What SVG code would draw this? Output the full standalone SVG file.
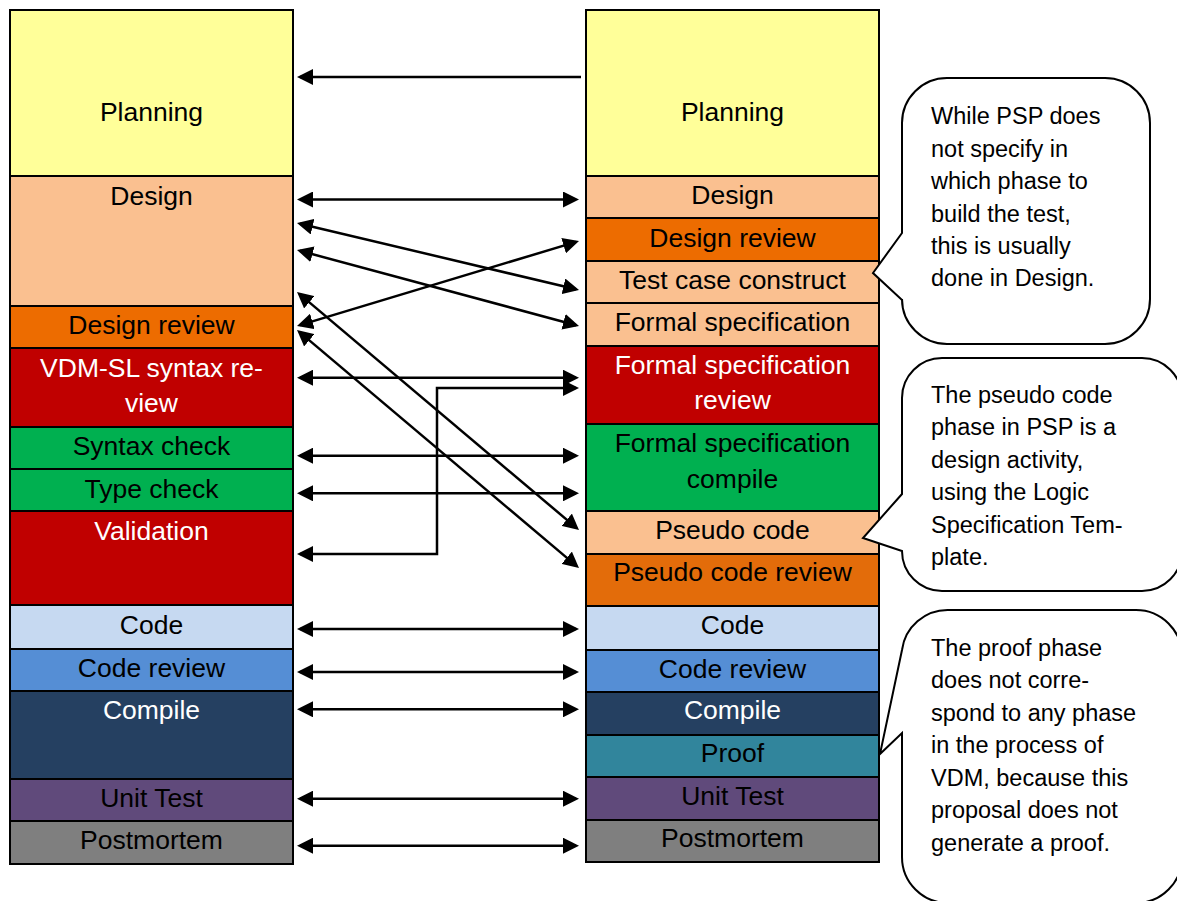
<svg xmlns="http://www.w3.org/2000/svg" width="1177" height="901" viewBox="0 0 1177 901">
<style>
.c{stroke:#000;stroke-width:2}
.t{font-family:"Liberation Sans",Arial,sans-serif;font-size:26.5px;text-anchor:middle;fill:#000}
.w{fill:#fff}
.n{font-family:"Liberation Sans",Arial,sans-serif;font-size:23.5px;fill:#000}
.b{fill:#fff;stroke:#000;stroke-width:2}
.a{fill:none;stroke:#000;stroke-width:2.5;marker-start:url(#ah);marker-end:url(#ah)}
.e{fill:none;stroke:#000;stroke-width:2.5;marker-end:url(#ah)}
</style>
<defs>
<marker id="ah" viewBox="0 0 16 16" refX="13" refY="8" markerWidth="16" markerHeight="16" markerUnits="userSpaceOnUse" orient="auto-start-reverse">
<path d="M0,0 L16,8 L0,16 Z" fill="#000"/>
</marker>
</defs>
<rect width="1177" height="901" fill="#fff"/>

<!-- Left column (PSP) -->
<g id="L-planning"><rect class="c" x="10" y="10" width="283" height="166" fill="#FFFF99"/><text class="t" x="151.5" y="121">Planning</text></g>
<g id="L-design"><rect class="c" x="10" y="176" width="283" height="130" fill="#FAC090"/><text class="t" x="151.5" y="205">Design</text></g>
<g id="L-design-review"><rect class="c" x="10" y="306" width="283" height="42" fill="#ED6C00"/><text class="t" x="151.5" y="334">Design review</text></g>
<g id="L-vdm-syntax-review"><rect class="c" x="10" y="348" width="283" height="79" fill="#C00000"/><text class="t w" x="151.5" y="377">VDM-SL syntax re-</text><text class="t w" x="151.5" y="412">view</text></g>
<g id="L-syntax-check"><rect class="c" x="10" y="427" width="283" height="42" fill="#00B050"/><text class="t" x="151.5" y="455">Syntax check</text></g>
<g id="L-type-check"><rect class="c" x="10" y="469" width="283" height="42" fill="#00B050"/><text class="t" x="151.5" y="498">Type check</text></g>
<g id="L-validation"><rect class="c" x="10" y="511" width="283" height="94" fill="#C00000"/><text class="t w" x="151.5" y="540">Validation</text></g>
<g id="L-code"><rect class="c" x="10" y="605" width="283" height="44" fill="#C6D9F1"/><text class="t" x="151.5" y="634">Code</text></g>
<g id="L-code-review"><rect class="c" x="10" y="649" width="283" height="42" fill="#558ED5"/><text class="t" x="151.5" y="677">Code review</text></g>
<g id="L-compile"><rect class="c" x="10" y="691" width="283" height="88" fill="#254061"/><text class="t w" x="151.5" y="719">Compile</text></g>
<g id="L-unit-test"><rect class="c" x="10" y="779" width="283" height="42" fill="#604A7B"/><text class="t" x="151.5" y="807">Unit Test</text></g>
<g id="L-postmortem"><rect class="c" x="10" y="821" width="283" height="43" fill="#7F7F7F"/><text class="t" x="151.5" y="849">Postmortem</text></g>

<!-- Right column (VDM) -->
<g id="R-planning"><rect class="c" x="586" y="10" width="293" height="166" fill="#FFFF99"/><text class="t" x="732.5" y="121">Planning</text></g>
<g id="R-design"><rect class="c" x="586" y="176" width="293" height="42" fill="#FAC090"/><text class="t" x="732.5" y="204">Design</text></g>
<g id="R-design-review"><rect class="c" x="586" y="218" width="293" height="43" fill="#ED6C00"/><text class="t" x="732.5" y="247">Design review</text></g>
<g id="R-test-case"><rect class="c" x="586" y="261" width="293" height="42" fill="#FAC090"/><text class="t" x="732.5" y="289">Test case construct</text></g>
<g id="R-formal-spec"><rect class="c" x="586" y="303" width="293" height="43" fill="#FAC090"/><text class="t" x="732.5" y="331">Formal specification</text></g>
<g id="R-formal-spec-review"><rect class="c" x="586" y="346" width="293" height="78" fill="#C00000"/><text class="t w" x="732.5" y="374">Formal specification</text><text class="t w" x="732.5" y="409">review</text></g>
<g id="R-formal-spec-compile"><rect class="c" x="586" y="424" width="293" height="87" fill="#00B050"/><text class="t" x="732.5" y="452">Formal specification</text><text class="t" x="732.5" y="488">compile</text></g>
<g id="R-pseudo-code"><rect class="c" x="586" y="511" width="293" height="43" fill="#FAC090"/><text class="t" x="732.5" y="539">Pseudo code</text></g>
<g id="R-pseudo-code-review"><rect class="c" x="586" y="554" width="293" height="52" fill="#E36C0A"/><text class="t" x="732.5" y="581">Pseudo code review</text></g>
<g id="R-code"><rect class="c" x="586" y="606" width="293" height="44" fill="#C6D9F1"/><text class="t" x="732.5" y="634">Code</text></g>
<g id="R-code-review"><rect class="c" x="586" y="650" width="293" height="42" fill="#558ED5"/><text class="t" x="732.5" y="678">Code review</text></g>
<g id="R-compile"><rect class="c" x="586" y="692" width="293" height="43" fill="#254061"/><text class="t w" x="732.5" y="719">Compile</text></g>
<g id="R-proof"><rect class="c" x="586" y="735" width="293" height="42" fill="#31859C"/><text class="t" x="732.5" y="762">Proof</text></g>
<g id="R-unit-test"><rect class="c" x="586" y="777" width="293" height="43" fill="#604A7B"/><text class="t" x="732.5" y="805">Unit Test</text></g>
<g id="R-postmortem"><rect class="c" x="586" y="820" width="293" height="42" fill="#7F7F7F"/><text class="t" x="732.5" y="847">Postmortem</text></g>

<!-- Callouts -->
<g id="callout-test">
<path class="b" d="M947,78 H1105 A45,45 0 0 1 1150,123 V299 A45,45 0 0 1 1105,344 H947 A45,45 0 0 1 902,299 V300 L873,273 L902,233 V123 A45,45 0 0 1 947,78 Z"/>
<text class="n" x="931" y="124">While PSP does</text>
<text class="n" x="931" y="157">not specify in</text>
<text class="n" x="931" y="189">which phase to</text>
<text class="n" x="931" y="222">build the test,</text>
<text class="n" x="931" y="254">this is usually</text>
<text class="n" x="931" y="286">done in Design.</text>
</g>
<g id="callout-pseudo">
<path class="b" d="M942,358 H1142 A40,40 0 0 1 1182,398 V551 A40,40 0 0 1 1142,591 H942 A40,40 0 0 1 902,551 L863,538 L902,494 V398 A40,40 0 0 1 942,358 Z"/>
<text class="n" x="931" y="403">The pseudo code</text>
<text class="n" x="931" y="435">phase in PSP is a</text>
<text class="n" x="931" y="468">design activity,</text>
<text class="n" x="931" y="500">using the Logic</text>
<text class="n" x="931" y="533">Specification Tem-</text>
<text class="n" x="931" y="565">plate.</text>
</g>
<g id="callout-proof">
<path class="b" d="M948,610 H1136 A46,46 0 0 1 1182,656 V857 A46,46 0 0 1 1136,903 H948 A46,46 0 0 1 902,857 V733 L880,754 L902,650 A46,46 0 0 1 948,610 Z"/>
<text class="n" x="931" y="656">The proof phase</text>
<text class="n" x="931" y="688">does not corre-</text>
<text class="n" x="931" y="721">spond to any phase</text>
<text class="n" x="931" y="753">in the process of</text>
<text class="n" x="931" y="786">VDM, because this</text>
<text class="n" x="931" y="818">proposal does not</text>
<text class="n" x="931" y="851">generate a proof.</text>
</g>

<!-- Connectors -->
<g id="connectors">
<path class="e" d="M581,77 H300"/>
<path class="a" d="M300,199.5 H576"/>
<path class="a" d="M299.9,223.7 L576.1,289.3"/>
<path class="a" d="M299.9,250.8 L576.1,325.2"/>
<path class="a" d="M299.9,325.1 L576.1,241.9"/>
<path class="a" d="M299.3,293.9 L576.7,528.1"/>
<path class="a" d="M299.3,331.9 L576.7,566.1"/>
<path class="a" d="M300,377.7 H576"/>
<path class="a" d="M576,388 H437 V554 H300"/>
<path class="a" d="M300,455.7 H576"/>
<path class="a" d="M300,493.3 H576"/>
<path class="a" d="M300,629 H576"/>
<path class="a" d="M300,672 H576"/>
<path class="a" d="M300,709.3 H576"/>
<path class="a" d="M300,798.7 H576"/>
<path class="a" d="M300,845.7 H576"/>
</g>
</svg>
